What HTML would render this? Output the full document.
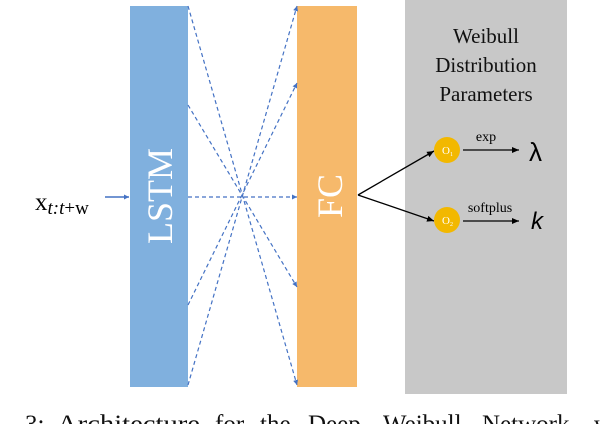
<!DOCTYPE html>
<html><head><style>body{margin:0;background:#fff}svg{display:block}</style></head><body>
<svg width="602" height="424" viewBox="0 0 602 424" xmlns="http://www.w3.org/2000/svg" font-family="Liberation Serif, serif">
<defs>
<marker id="ab" markerWidth="6" markerHeight="6" refX="5" refY="3" orient="auto" markerUnits="userSpaceOnUse"><path d="M0,0.5 L5,3 L0,5.5z" fill="#4472c4"/></marker>
<marker id="ak" markerWidth="8" markerHeight="8" refX="7" refY="4" orient="auto" markerUnits="userSpaceOnUse"><path d="M0,1 L7,4 L0,7z" fill="#000"/></marker>
</defs>
<rect x="405" y="0" width="162" height="394" fill="#c8c8c8"/>
<rect x="130" y="6" width="58" height="381" fill="#80b0de"/>
<rect x="297" y="6" width="60" height="381" fill="#f6b96b"/>
<text transform="translate(172,196) rotate(-90)" text-anchor="middle" font-size="36" fill="#fff">LSTM</text>
<text transform="translate(342,196) rotate(-90)" text-anchor="middle" font-size="36" fill="#fff">FC</text>
<g stroke="#4472c4" stroke-width="1.2" stroke-dasharray="4,3" fill="none" marker-end="url(#ab)">
<line x1="188" y1="6" x2="297" y2="385"/>
<line x1="188" y1="105" x2="297" y2="287"/>
<line x1="188" y1="197" x2="297" y2="197"/>
<line x1="188" y1="305" x2="297" y2="83"/>
<line x1="188" y1="385" x2="297" y2="6"/>
</g>
<line x1="105" y1="197" x2="129" y2="197" stroke="#4472c4" stroke-width="1.5" marker-end="url(#ab)"/>
<text x="35" y="210" font-size="25">x<tspan font-size="19" dy="4" font-style="italic">t:t</tspan><tspan font-size="19">+w</tspan></text>
<text font-size="21" text-anchor="middle" fill="#111"><tspan x="486" y="43">Weibull</tspan><tspan x="486" y="72">Distribution</tspan><tspan x="486" y="101">Parameters</tspan></text>
<g stroke="#000" stroke-width="1.3" marker-end="url(#ak)">
<line x1="358" y1="195" x2="434" y2="151"/>
<line x1="358" y1="195" x2="434" y2="221"/>
<line x1="463" y1="150" x2="519" y2="150"/>
<line x1="463" y1="221" x2="519" y2="221"/>
</g>
<circle cx="447" cy="150" r="13" fill="#f2b800"/>
<circle cx="447" cy="220" r="13" fill="#f2b800"/>
<text x="442" y="154" font-size="11" fill="#fff">O<tspan font-size="6" dy="2">1</tspan></text>
<text x="442" y="224" font-size="11" fill="#fff">O<tspan font-size="6" dy="2">2</tspan></text>
<text x="486" y="141" font-size="14" text-anchor="middle">exp</text>
<text x="490" y="212" font-size="14" text-anchor="middle">softplus</text>
<text x="529" y="161" font-size="26" font-family="Liberation Sans, sans-serif">λ</text>
<text x="531" y="229" font-size="24" font-style="italic" font-family="Liberation Sans, sans-serif">k</text>
<g font-size="25" fill="#111">
<text x="-12" y="432">g.</text><text x="25" y="432">3:</text><text x="57" y="432" textLength="143" lengthAdjust="spacingAndGlyphs">Architecture</text><text x="215" y="432">for</text><text x="260" y="432">the</text><text x="308" y="432">Deep</text><text x="383" y="432">Weibull</text><text x="482" y="432">Network,</text><text x="594" y="432">w</text>
</g>
</svg>
</body></html>
